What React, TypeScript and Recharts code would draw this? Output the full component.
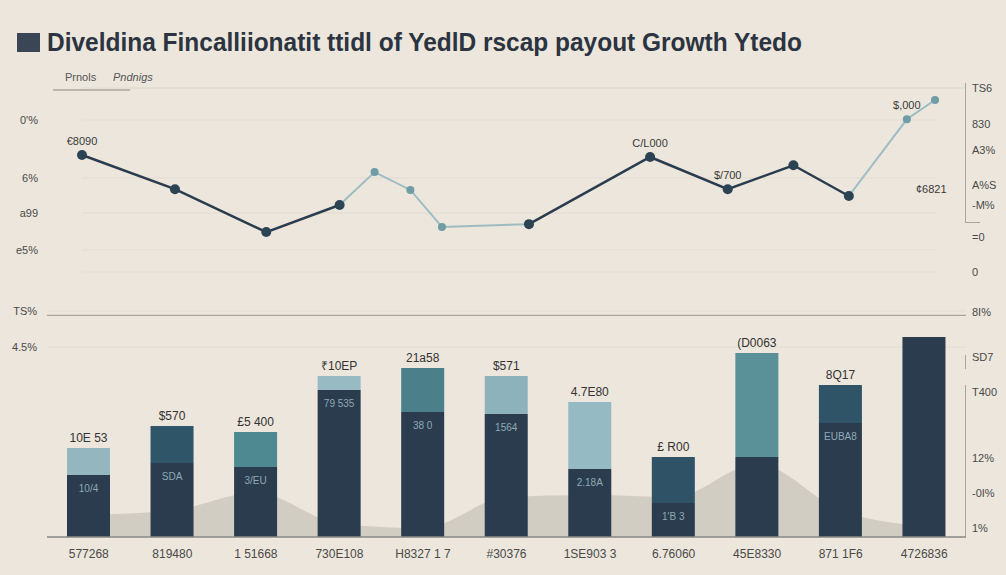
import React from "react";
import {
  Area,
  Bar,
  CartesianGrid,
  Cell,
  ComposedChart,
  LabelList,
  Line,
  LineChart,
  ReferenceLine,
  XAxis,
  YAxis,
} from "recharts";

// top panel: yield line (x = period, y = yield)
const periods = [0, 1.09, 2.16, 3.02, 3.43, 3.85, 4.22, 5.24, 6.66, 7.57, 8.34, 8.99, 9.67, 10];
const yieldMain = [6.36, 4.5, 2.17, 3.64, null, null, null, 2.6, 6.25, 4.5, 5.8, 4.13, null, null];
const yieldSketch = [null, null, null, 3.64, 5.43, 4.46, 2.45, 2.6, null, null, null, 4.13, 8.3, 9.35];
const mainTags = ["€8090", "", "", "", "", "", "", "", "C/L000", "$/700", "", "", "", ""];
const sketchTags = ["", "", "", "", "", "", "", "", "", "", "", "", "$,000", ""];

const lineLeftTicks = [8.26, 5.11, 3.21, 1.2];
const lineLeftLabels = ["0'%", "6%", "a99", "e5%"];
const lineRightTicks = [10, 8.04, 6.63, 4.73, 3.64, 1.9, 0];
const lineRightLabels = ["TS6", "830", "A3%", "A%S", "-M%", "=0", "0"];

// bottom panel: stacked payout bars
const categories = ["577268", "819480", "1 51668", "730E108", "H8327 1 7", "#30376", "1SE903 3", "6.76060", "45E8330", "871 1F6", "4726836"];
const payoutBase = [28.0, 33.4, 31.6, 66.3, 56.4, 55.5, 30.7, 15.3, 36.1, 51.4, 90.3];
const payoutGrowth = [12.2, 16.7, 15.8, 6.4, 19.9, 17.2, 30.2, 20.8, 46.9, 17.2, 0];
const growthShade = ["#93b6bf", "#2f5568", "#4e8991", "#98bac3", "#4b808b", "#8db2bc", "#95bac3", "#2f5266", "#5a9199", "#2f5367", "#2a3c4e"];
const backdrop = [10, 12, 20, 6, 4, 18, 19, 18, 33, 12, 5];
const barTags = ["10E 53", "$570", "£5 400", "₹10EP", "21a58", "$571", "4.7E80", "£ R00", "(D0063", "8Q17", "# 5Ba 14"];
const innerTags = ["10/4", "SDA", "3/EU", "79 535", "38 0", "1564", "2.18A", "1'B 3", "", "EUBA8", ""];

const barLeftTicks = [102, 85.7];
const barLeftLabels = ["TS%", "4.5%"];
const barRightTicks = [101.4, 81.4, 65.2, 35.7, 19.9, 4.1];
const barRightLabels = ["8I%", "SD7", "T400", "12%", "-0I%", "1%"];

const BG = "#ece6dc";
const INK = "#2a3c4e";
const FONT = "'Liberation Sans', Arial, sans-serif";

// keep label text on one line (Recharts wraps at normal spaces)
const noWrap = (s: string) => s.replace(/ /g, "\u00a0");

const lineRows = periods.map((p, i) => ({
  period: p,
  main: yieldMain[i],
  sketch: yieldSketch[i],
  mainTag: noWrap(mainTags[i]),
  sketchTag: noWrap(sketchTags[i]),
}));

const barRows = categories.map((c, i) => ({
  cat: c,
  base: payoutBase[i],
  growth: payoutGrowth[i],
  shade: backdrop[i],
  tag: noWrap(barTags[i]),
  inner: noWrap(innerTags[i]),
}));

const labelFrom = (ticks: number[], labels: string[]) => (v: number) => {
  const i = ticks.indexOf(v);
  return i >= 0 ? labels[i] : "";
};

const tickStyle = { fill: "#4a4a4a", fontSize: 11, fontFamily: FONT };

export default function App() {
  return (
    <div
      style={{
        position: "absolute",
        left: 0,
        top: 0,
        width: 1006,
        height: 575,
        background: BG,
        overflow: "hidden",
        fontFamily: FONT,
      }}
    >
      <div style={{ position: "absolute", left: 17, top: 33, width: 23, height: 19, background: "#3a4656" }} />
      <svg width={1006} height={100} style={{ position: "absolute", left: 0, top: 0 }}>
        <text
          x={47}
          y={51}
          fontSize={25}
          fontWeight={700}
          fill="#2b3440"
          fontFamily={FONT}
          textLength={755}
          lengthAdjust="spacingAndGlyphs"
        >
          Diveldina Fincalliionatit ttidl of YedlD rscap  payout Growth Ytedo
        </text>
        <text x={65} y={81} fontSize={11} fill="#555" fontFamily={FONT}>Prnols</text>
        <text x={113} y={81} fontSize={11} fill="#555" fontFamily={FONT} fontStyle="italic">Pndnigs</text>
        <line x1={53} x2={130} y1={90} y2={90} stroke="#8a8780" strokeWidth={1.2} />
        <line x1={130} x2={966} y1={88} y2={88} stroke="#dcd5ca" strokeWidth={1} />
      </svg>

      <div style={{ position: "absolute", left: 965, top: 83, width: 1, height: 139, background: "#a9a59d" }} />
      <div style={{ position: "absolute", left: 965, top: 222, width: 15, height: 1, background: "#a9a59d" }} />
      <div style={{ position: "absolute", left: 965, top: 385, width: 1, height: 152, background: "#a9a59d" }} />
      <div style={{ position: "absolute", left: 965, top: 355, width: 1, height: 14, background: "#a9a59d" }} />
      <div style={{ position: "absolute", left: 916, top: 183, fontSize: 11, color: "#3a3a3a" }}>¢6821</div>

      <div style={{ position: "absolute", left: 0, top: 60 }}>
        <LineChart width={1006} height={240} data={lineRows} margin={{ top: 28, right: 11, bottom: 28, left: 12 }}>
          <CartesianGrid vertical={false} stroke="#e2dcd2" yAxisId="l" />
          <XAxis type="number" dataKey="period" domain={[0, 10]} hide />
          <YAxis
            yAxisId="l"
            domain={[0, 10]}
            ticks={lineLeftTicks}
            tickFormatter={labelFrom(lineLeftTicks, lineLeftLabels)}
            width={70}
            axisLine={false}
            tickLine={false}
            tickSize={0}
            tickMargin={44}
            tick={tickStyle}
          />
          <YAxis
            yAxisId="r"
            orientation="right"
            domain={[0, 10]}
            ticks={lineRightTicks}
            tickFormatter={labelFrom(lineRightTicks, lineRightLabels)}
            width={60}
            axisLine={false}
            tickLine={false}
            tickSize={0}
            tickMargin={37}
            tick={tickStyle}
          />
          <Line
            yAxisId="r"
            dataKey="sketch"
            stroke="#9dbcc3"
            strokeWidth={2}
            connectNulls={false}
            dot={{ r: 4, fill: "#6f9ca5", stroke: "none" }}
            isAnimationActive={false}
          >
            <LabelList dataKey="sketchTag" position="top" offset={10} fill="#3a3a3a" fontSize={11} />
          </Line>
          <Line
            yAxisId="l"
            dataKey="main"
            stroke={INK}
            strokeWidth={2.5}
            connectNulls={false}
            dot={{ r: 5, fill: "#2c4354", stroke: "none" }}
            isAnimationActive={false}
          >
            <LabelList dataKey="mainTag" position="top" offset={10} fill="#3a3a3a" fontSize={11} />
          </Line>
        </LineChart>
      </div>

      <div style={{ position: "absolute", left: 0, top: 300 }}>
        <ComposedChart width={1006} height={275} data={barRows} margin={{ top: 11, right: 4, bottom: 8, left: 7 }}>
          <CartesianGrid vertical={false} stroke="#e3ddd3" yAxisId="l" />
          <XAxis
            dataKey="cat"
            axisLine={false}
            tickLine={false}
            tickSize={0}
            tickMargin={12}
            height={30}
            interval={0}
            tick={{ ...tickStyle, fontSize: 12 }}
          />
          <YAxis
            yAxisId="l"
            domain={[0, 102]}
            ticks={barLeftTicks}
            tickFormatter={labelFrom(barLeftTicks, barLeftLabels)}
            width={40}
            axisLine={false}
            tickLine={false}
            tickSize={0}
            tickMargin={10}
            tick={tickStyle}
          />
          <YAxis
            yAxisId="r"
            orientation="right"
            domain={[0, 102]}
            ticks={barRightTicks}
            tickFormatter={labelFrom(barRightTicks, barRightLabels)}
            width={36}
            axisLine={false}
            tickLine={false}
            tickSize={0}
            tickMargin={6}
            tick={tickStyle}
          />
          <ReferenceLine yAxisId="l" y={100} stroke="#aaa69e" strokeWidth={1.2} />
          <Area
            yAxisId="r"
            dataKey="shade"
            type="monotone"
            fill="#cbc7bd"
            fillOpacity={0.8}
            stroke="none"
            isAnimationActive={false}
          />
          <Bar yAxisId="l" dataKey="base" stackId="a" fill={INK} barSize={43} isAnimationActive={false}>
            <LabelList dataKey="inner" position="insideTop" offset={10} fill="#8fa9b5" fontSize={10} />
          </Bar>
          <Bar yAxisId="l" dataKey="growth" stackId="a" barSize={43} isAnimationActive={false}>
            {barRows.map((r, i) => (
              <Cell key={r.cat} fill={growthShade[i]} />
            ))}
            <LabelList dataKey="tag" position="top" offset={6} fill="#333" fontSize={12} />
          </Bar>
          <ReferenceLine yAxisId="l" y={0} stroke="#8a8884" strokeWidth={1.5} />
        </ComposedChart>
      </div>
    </div>
  );
}
